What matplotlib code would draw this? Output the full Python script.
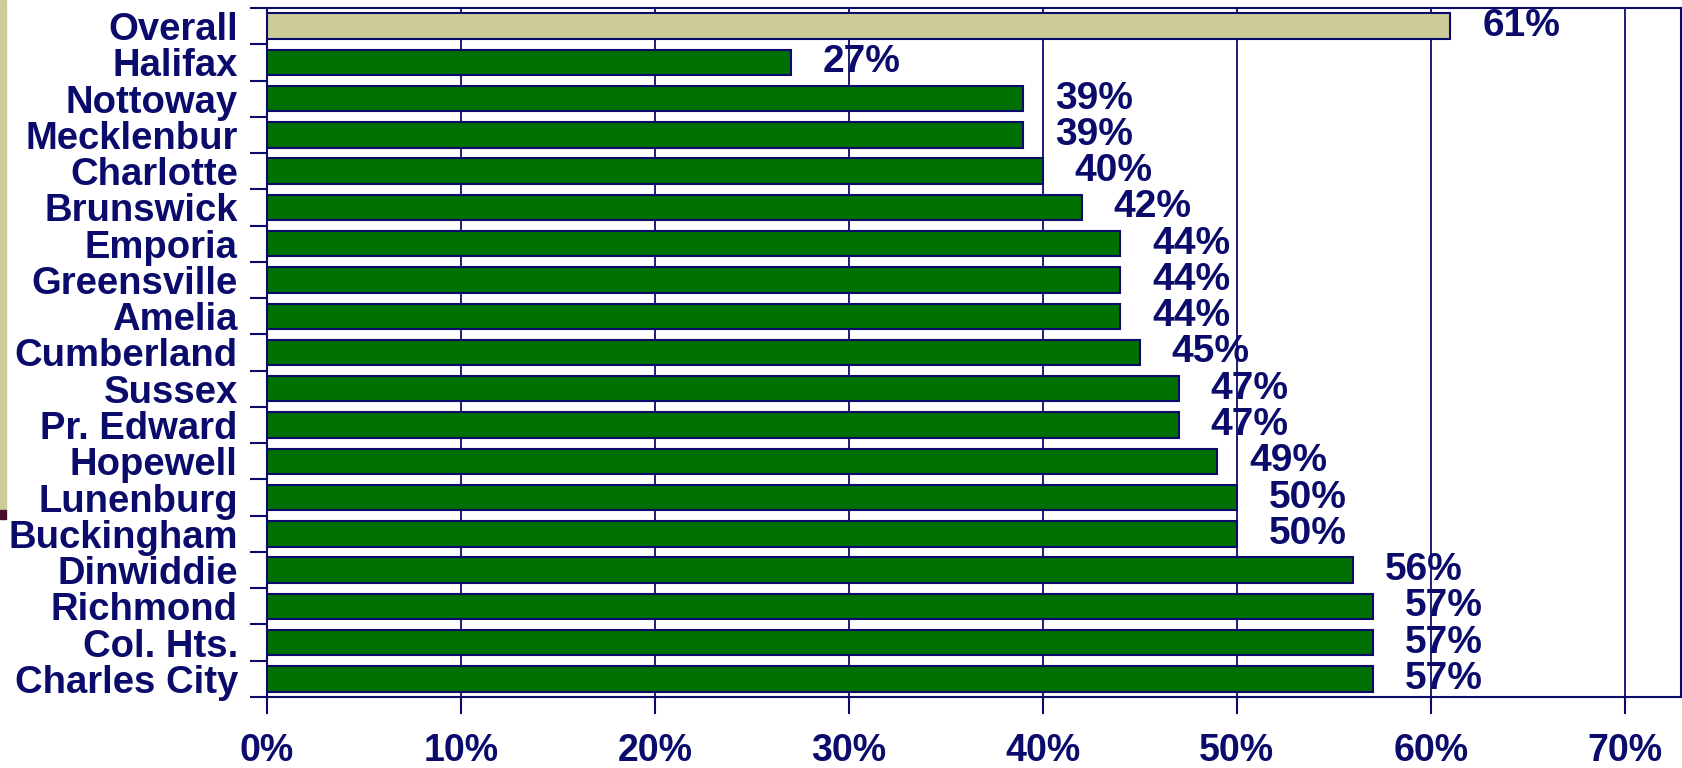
import numpy as np
import matplotlib.pyplot as plt
import matplotlib.ticker as ticker
from matplotlib.patches import Rectangle

categories = ['Overall', 'Halifax', 'Nottoway', 'Mecklenbur', 'Charlotte', 'Brunswick',
              'Emporia', 'Greensville', 'Amelia', 'Cumberland', 'Sussex', 'Pr. Edward',
              'Hopewell', 'Lunenburg', 'Buckingham', 'Dinwiddie', 'Richmond', 'Col. Hts.',
              'Charles City']
values = [61, 27, 39, 39, 40, 42, 44, 44, 44, 45, 47, 47, 49, 50, 50, 56, 57, 57, 57]
x_ticks = [0, 10, 20, 30, 40, 50, 60, 70]

navy = '#0b0b6b'
green = '#007000'
beige = '#cccc99'

plt.rcParams['font.family'] = ['Liberation Sans', 'DejaVu Sans']
plt.rcParams['font.weight'] = 'bold'

fig = plt.figure(figsize=(16.83, 7.68), dpi=100)
W, H = 1683, 768
ax = fig.add_axes([267 / W, (768 - 697) / H, (1681 - 267) / W, (697 - 8) / H])

y = np.arange(len(categories))
colors = [beige] + [green] * (len(categories) - 1)
ax.barh(y, values, height=0.7, color=colors, edgecolor=navy, linewidth=1.5, zorder=3)

for yi, v in zip(y, values):
    ax.annotate(f'{v}%', (v, yi), xytext=(23, 0), textcoords='offset points',
                ha='left', va='center', fontsize=28, fontweight='bold', color=navy, zorder=4)

ax.set_xlim(0, 72.9)
ax.set_ylim(len(categories) - 0.5, -0.5)

ax.set_xticks(x_ticks)
ax.xaxis.set_major_formatter(ticker.FormatStrFormatter('%d%%'))
ax.tick_params(axis='x', direction='out', length=12, width=1.5, color=navy,
               labelsize=27, labelcolor=navy, pad=14)
ax.grid(axis='x', color=navy, linewidth=1.3, zorder=1)

ax.set_yticks(y)
ax.set_yticklabels(categories)
ax.set_yticks(np.arange(len(categories) + 1) - 0.5, minor=True)
ax.tick_params(axis='y', which='major', length=0, labelsize=27.5, labelcolor=navy, pad=21)
ax.tick_params(axis='y', which='minor', direction='out', length=12, width=1.5, color=navy)

for s in ax.spines.values():
    s.set_color(navy)
    s.set_linewidth(1.5)

# decorative stripe at the left edge of the slide
fig.patches.append(Rectangle((0, (768 - 510) / H), 6 / W, 510 / H, transform=fig.transFigure,
                             color=beige, zorder=0))
fig.patches.append(Rectangle((0, (768 - 519) / H), 6 / W, 9 / H, transform=fig.transFigure,
                             color='#4a0a2a', zorder=0))

plt.savefig('out.png', dpi=100)
